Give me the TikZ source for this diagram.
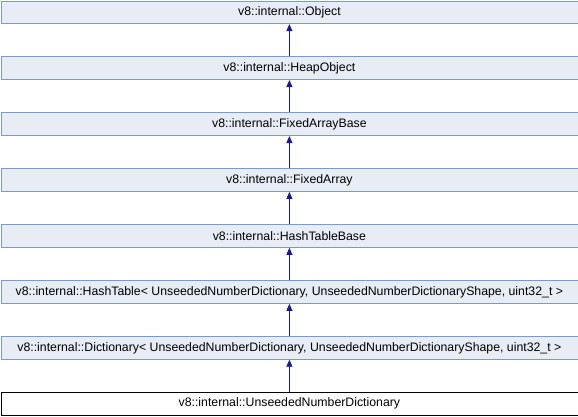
\documentclass[tikz,border=0pt]{standalone}
\usepackage{fontspec}
\setmainfont{Liberation Sans}
\usetikzlibrary{arrows.meta}
\definecolor{boxfill}{HTML}{E8ECF5}
\definecolor{boxline}{HTML}{7F98CC}
\definecolor{arrowc}{HTML}{1A1A8C}
\begin{document}
\begin{tikzpicture}[x=1pt,y=-1pt,
  cls/.style={draw=boxline,fill=boxfill,line width=0.8pt,minimum width=577pt,minimum height=22.8pt,inner sep=0pt,anchor=north west,font=\fontsize{12.3}{14}\selectfont},
  cur/.style={cls,draw=black,fill=white},
  inh/.style={draw=arrowc,line width=0.9pt,-{Triangle[length=7pt,width=6pt]}}]
\useasboundingbox (0,0) rectangle (578,416);
\node[cls] (n0) at (0.5,0.5) {v8::internal::Object};
\node[cls] (n1) at (0.5,56.4) {v8::internal::HeapObject};
\node[cls] (n2) at (0.5,112.4) {v8::internal::FixedArrayBase};
\node[cls] (n3) at (0.5,168.3) {v8::internal::FixedArray};
\node[cls] (n4) at (0.5,224.2) {v8::internal::HashTableBase};
\node[cls] (n5) at (0.5,280.2) {v8::internal::HashTable< UnseededNumberDictionary, UnseededNumberDictionaryShape, uint32\_t >};
\node[cls] (n6) at (0.5,336.1) {v8::internal::Dictionary< UnseededNumberDictionary, UnseededNumberDictionaryShape, uint32\_t >};
\node[cur] (n7) at (0.5,392.0) {v8::internal::UnseededNumberDictionary};
\foreach \a/\b in {n1/n0,n2/n1,n3/n2,n4/n3,n5/n4,n6/n5,n7/n6}
  \draw[inh] (\a.north) -- (\b.south);
\end{tikzpicture}
\end{document}
